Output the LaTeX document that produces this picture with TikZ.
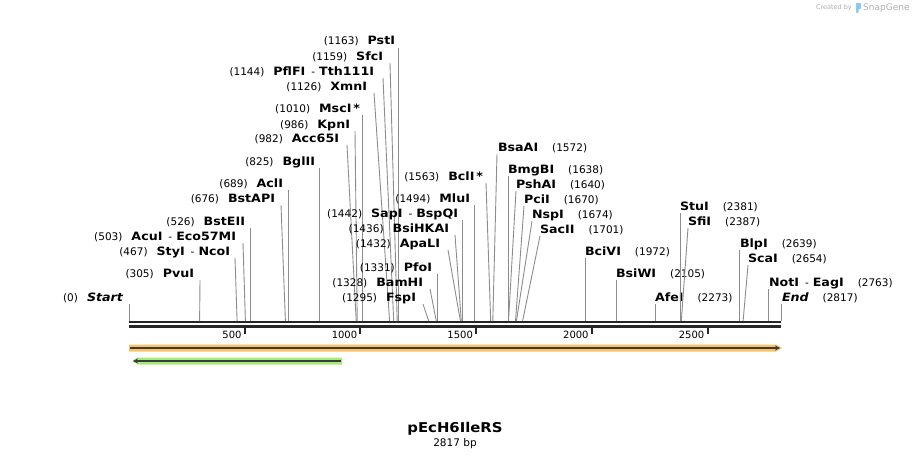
\documentclass[tikz,border=0pt]{standalone}
\usepackage{fontspec}
\setmainfont{DejaVu Sans}
\newfontfamily\namefam[FakeStretch=1.1]{DejaVu Sans}
\usetikzlibrary{arrows.meta}
\definecolor{cutgray}{RGB}{140,140,140}
\definecolor{orangef}{RGB}{250,196,100}
\definecolor{greenf}{RGB}{165,235,120}
\definecolor{featline}{RGB}{60,60,60}
\definecolor{wmgray}{RGB}{175,175,175}
\definecolor{logoblue}{RGB}{140,200,240}
\newcommand\numf{\fontsize{10.5}{12}\selectfont\mdseries}
\newcommand\namef{\namefam\fontsize{11.5}{13}\selectfont\bfseries}
\newcommand\nb[1]{{\numf(#1)}}
\newcommand\en[1]{{\namef #1}}
\newcommand\dash{\hspace{6pt}{\numf -}\hspace{4pt}}
\newcommand\gapL{\hspace{9pt}}
\newcommand\gapR{\hspace{14pt}}
% left-side site: id, text end x, baseline y, content, line top x, axis x
\newcommand\siteL[6]{%
  \node[lab, anchor=base east] (#1) at (#2,#3) {#4};
  \coordinate (#1t) at (#5,#3+3);
  \coordinate (#1a) at (#6,321);
  \draw[cut] (#1t) -- (#1a);}
% right-side site: id, text start x, baseline y, content, line top x, axis x
\newcommand\siteR[6]{%
  \node[lab, anchor=base west] (#1) at (#2,#3) {#4};
  \coordinate (#1t) at (#5,#3+3);
  \coordinate (#1a) at (#6,321);
  \draw[cut] (#1t) -- (#1a);}
\begin{document}
\begin{tikzpicture}[x=1pt,y=-1pt,
  lab/.style={inner sep=0pt, outer sep=0pt},
  cut/.style={draw=cutgray, line width=0.9pt},
  axisline/.style={line width=2.6pt, black!85},
  tick/.style={line width=2pt, black!85},
  ticklab/.style={inner sep=0pt, anchor=base east, font=\fontsize{10}{12}\selectfont}]
\useasboundingbox (0,0) rectangle (912,460);
% axis
\coordinate (ax0) at (129,322);
\coordinate (ax1) at (781,322);
\coordinate (bx0) at (129,326.5);
\coordinate (bx1) at (781,326.5);
\draw[axisline] (ax0) -- (ax1);
\draw[axisline] (bx0) -- (bx1);
\foreach \v/\x in {500/244.7,1000/360.4,1500/476.1,2000/591.8,2500/707.5}{
  \coordinate (tk\v a) at (\x,327);
  \coordinate (tk\v b) at (\x,334);
  \draw[tick] (tk\v a) -- (tk\v b);
  \node[ticklab] (tl\v) at (\x-3,338) {\v};
}
% left-side sites
\siteL{sStart}{123}{301}{\nb{0}\gapL{\namef\itshape Start}}{129}{129}
\siteL{sPvu}{194}{277}{\nb{305}\gapL\en{PvuI}}{200}{199.6}
\siteL{sNco}{230}{255}{\nb{467}\gapL\en{StyI}\dash\en{NcoI}}{235}{237.1}
\siteL{sEco}{236}{240}{\nb{503}\gapL\en{AcuI}\dash\en{Eco57MI}}{243}{245.4}
\siteL{sBstE}{245}{225}{\nb{526}\gapL\en{BstEII}}{250.7}{250.7}
\siteL{sBstAP}{275}{202}{\nb{676}\gapL\en{BstAPI}}{281}{285.4}
\siteL{sAcl}{283}{187}{\nb{689}\gapL\en{AclI}}{288.4}{288.4}
\siteL{sBgl}{315}{165}{\nb{825}\gapL\en{BglII}}{319.9}{319.9}
\siteL{sAcc}{339}{142}{\nb{982}\gapL\en{Acc65I}}{347}{356.2}
\siteL{sKpn}{350}{128}{\nb{986}\gapL\en{KpnI}}{355}{357.2}
\siteL{sMsc}{360}{112}{\nb{1010}\gapL\en{MscI\,*}}{362.7}{362.7}
\siteL{sXmn}{367}{90}{\nb{1126}\gapL\en{XmnI}}{374}{389.6}
\siteL{sTth}{374}{75}{\nb{1144}\gapL\en{PflFI}\dash\en{Tth111I}}{383}{393.7}
\siteL{sSfc}{383}{60}{\nb{1159}\gapL\en{SfcI}}{390}{397.2}
\siteL{sPst}{395}{45}{\nb{1163}\gapL\en{PstI}}{398.1}{398.1}
\siteL{sFsp}{416}{301}{\nb{1295}\gapL\en{FspI}}{423}{428.7}
\siteL{sBam}{423}{286}{\nb{1328}\gapL\en{BamHI}}{430}{436.3}
\siteL{sPfo}{432}{271}{\nb{1331}\gapL\en{PfoI}}{437}{437}
\siteL{sApa}{440}{247}{\nb{1432}\gapL\en{ApaLI}}{448}{460.4}
\siteL{sBsiHK}{449}{232}{\nb{1436}\gapL\en{BsiHKAI}}{455}{461.3}
\siteL{sBsp}{458}{217}{\nb{1442}\gapL\en{SapI}\dash\en{BspQI}}{462.7}{462.7}
\siteL{sMlu}{470}{202}{\nb{1494}\gapL\en{MluI}}{474.7}{474.7}
\siteL{sBcl}{483}{180}{\nb{1563}\gapL\en{BclI\,*}}{486}{490.7}
% right-side sites
\siteR{sBsaA}{498}{151}{\en{BsaAI}\gapR\nb{1572}}{497}{492.8}
\siteR{sBmgB}{508}{173}{\en{BmgBI}\gapR\nb{1638}}{508.1}{508.1}
\siteR{sPshA}{516}{188}{\en{PshAI}\gapR\nb{1640}}{516}{508.5}
\siteR{sPci}{524}{203}{\en{PciI}\gapR\nb{1670}}{524}{515.5}
\siteR{sNsp}{532}{218}{\en{NspI}\gapR\nb{1674}}{532}{516.4}
\siteR{sSac}{540}{233}{\en{SacII}\gapR\nb{1701}}{540}{522.6}
\siteR{sBciV}{585}{255}{\en{BciVI}\gapR\nb{1972}}{585.3}{585.3}
\siteR{sBsiW}{616}{277}{\en{BsiWI}\gapR\nb{2105}}{616.1}{616.1}
\siteR{sAfe}{655}{301}{\en{AfeI}\gapR\nb{2273}}{655}{655}
\siteR{sStu}{680}{210}{\en{StuI}\gapR\nb{2381}}{680}{680}
\siteR{sSfi}{688}{225}{\en{SfiI}\gapR\nb{2387}}{688}{681.3}
\siteR{sBlp}{740}{247}{\en{BlpI}\gapR\nb{2639}}{739.7}{739.7}
\siteR{sSca}{748}{262}{\en{ScaI}\gapR\nb{2654}}{748}{743.1}
\siteR{sNot}{769}{286}{\en{NotI}\dash\en{EagI}\gapR\nb{2763}}{768.3}{768.3}
\siteR{sEnd}{782}{301}{{\namef\itshape End}\gapR\nb{2817}}{781}{781}
% features
\fill[orangef] (129,344.5) -- (776,344.5) -- (782,348) -- (776,351.5) -- (129,351.5) -- cycle;
\coordinate (o0) at (130,348);
\coordinate (o1) at (780,348);
\draw[featline, line width=1.5pt, -{Stealth[length=5pt,width=5pt]}] (o0) -- (o1);
\fill[greenf] (342,357.5) -- (138,357.5) -- (132,361) -- (138,364.5) -- (342,364.5) -- cycle;
\coordinate (g0) at (341,361);
\coordinate (g1) at (133,361);
\draw[featline, line width=1.5pt, -{Stealth[length=5pt,width=5pt]}] (g0) -- (g1);
% title
\node[font=\namefam\fontsize{13.5}{15}\selectfont\bfseries, inner sep=0pt] (title) at (455,429) {pEcH6IleRS};
\node[font=\fontsize{10.5}{12}\selectfont, inner sep=0pt] (len) at (455,444) {2817 bp};
% watermark
\node[font=\fontsize{6.5}{8}\selectfont, text=wmgray, anchor=east, inner sep=0pt] (wm1) at (852,8) {Created by};
\fill[logoblue, rounded corners=0.8pt] (856,3) -- (861,3) -- (861,9) -- (858.5,9) -- (858.5,13) -- (856,13) -- cycle;
\node[font=\fontsize{9}{10}\selectfont, text=wmgray, anchor=west, inner sep=0pt] (wm2) at (863,8) {SnapGene};
\end{tikzpicture}
\end{document}
